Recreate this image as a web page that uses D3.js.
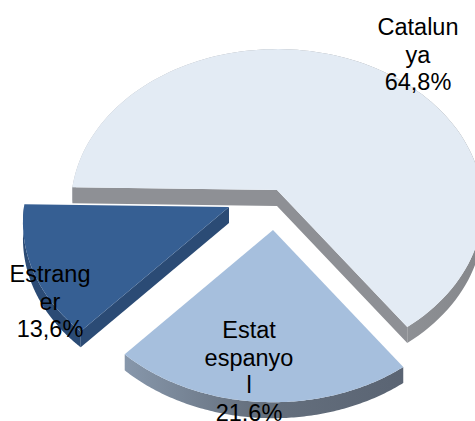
<!DOCTYPE html>
<html>
<head>
<meta charset="utf-8">
<script src="https://cdn.jsdelivr.net/npm/d3@7"></script>
<style>
    html, body { margin: 0; padding: 0; background: #fff; }
    svg { display: block; overflow: hidden; }
    text { font-family: "Liberation Sans", Arial, sans-serif; font-size: 23.5px; fill: #000; text-anchor: middle; }
</style>
</head>
<body>
<div class="chart"></div>
<script>
const categories = ['Catalunya', 'Estat espanyol', 'Estranger']
const shares = [64.8, 21.6, 13.6]
const wrappedNames = [['Catalun', 'ya'], ['Estat', 'espanyo', 'l'], ['Estrang', 'er']]

const width = 475
const height = 421

// 3d look: circle is tilted and the front edge comes closer to the viewer
const radius = 205
const radiusY = 155
const perspective = 0.10
const depth = 16

// slice layout, same order as categories
const apex = [[277, 190], [273, 230], [229, 207]]
const topColor = ['#e3ebf4', '#a6bfdd', '#365f93']
const wallColor = '#8e9095'
const wallDark = '#2b4b75'
const labelPos = [[418, 35], [249, 338], [50, 282]]
const drawOrder = [0, 2, 1]

const svg = d3.select('.chart')
    .append('svg')
    .attr('width', width)
    .attr('height', height)
    .attr('viewBox', [0, 0, width, height])

const defs = svg.append('defs')

const rimStops = [
    [['0%', '#b4b8be'], ['100%', '#85878b']],
    [['0%', '#8797ab'], ['45%', '#66717f'], ['100%', '#5a6473']],
    [['0%', wallDark], ['100%', wallDark]]
]

rimStops.forEach((stops, i) => {
    const grad = defs.append('linearGradient').attr('id', 'rim' + i)
    stops.forEach(s => grad.append('stop').attr('offset', s[0]).attr('stop-color', s[1]))
})

const pie = d3.pie()
    .sort(null)
    .startAngle(-89 * Math.PI / 180)
    .endAngle(271 * Math.PI / 180)

const slices = pie(shares)

// d3.pie angles: 0 is 12 o'clock, going clockwise
function project(angle, origin) {
    const ux = Math.sin(angle)
    const uy = -Math.cos(angle)
    const f = 1 - perspective * uy
    return [origin[0] + radius * ux / f, origin[1] + radiusY * uy / f]
}

function arcPoints(slice, origin) {
    return d3.range(0, 121).map(i => {
        const t = slice.startAngle + (slice.endAngle - slice.startAngle) * i / 120
        return project(t, origin)
    })
}

const line = d3.line()
const shift = p => [p[0], p[1] + depth]

function extrude(points) {
    return line(points.concat(points.slice().reverse().map(shift))) + 'Z'
}

drawOrder.forEach(i => {
    const origin = apex[i]
    const rim = arcPoints(slices[i], origin)
    const g = svg.append('g').attr('class', 'slice')

    g.append('path')
        .attr('d', extrude(rim))
        .attr('fill', `url(#rim${i})`)

    // cut walls, only the ones that face the viewer
    if (i === 0) {
        g.append('path')
            .attr('d', extrude([rim[0], origin, rim[rim.length - 1]]))
            .attr('fill', wallColor)
    }
    if (i === 2) {
        g.append('path')
            .attr('d', extrude([origin, rim[0]]))
            .attr('fill', wallDark)
    }

    g.append('path')
        .attr('d', line([origin].concat(rim)) + 'Z')
        .attr('fill', topColor[i])
})

const lineGap = 27.6

const labels = svg.selectAll('text.label')
    .data(categories)
    .enter()
    .append('text')
    .attr('class', 'label')
    .attr('x', (d, i) => labelPos[i][0])
    .attr('y', (d, i) => labelPos[i][1])

labels.each(function (d, i) {
    const rows = wrappedNames[i].concat([shares[i].toFixed(1).replace('.', ',') + '%'])
    d3.select(this).selectAll('tspan')
        .data(rows)
        .enter()
        .append('tspan')
        .attr('x', labelPos[i][0])
        .attr('dy', (r, j) => j === 0 ? 0 : lineGap)
        .text(r => r)
})
</script>
</body>
</html>
